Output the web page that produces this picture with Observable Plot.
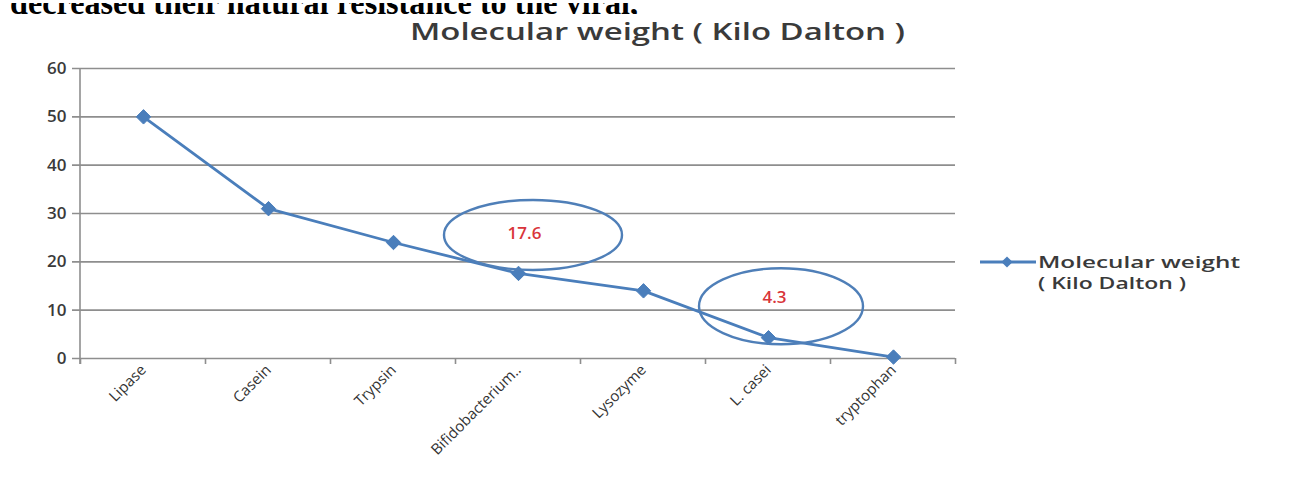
<!DOCTYPE html>
<html>
<head>
<meta charset="utf-8">
<script src="https://cdn.jsdelivr.net/npm/d3@7"></script>
<script src="https://cdn.jsdelivr.net/npm/@observablehq/plot@0.6"></script>
<style>
  html, body { margin: 0; padding: 0; background: #fff; }
  body { width: 1296px; height: 501px; overflow: hidden; position: relative; font-family: "Open Sans", sans-serif; }
  #cut { position: absolute; left: 0; top: 0; width: 1296px; height: 14px; overflow: hidden; }
  #title { position: absolute; left: 0; top: 14px; }
  #chart { position: absolute; left: 0; top: 50px; }
  #legend { position: absolute; left: 970px; top: 245px; }
</style>
</head>
<body>
<div id="cut">
  <svg width="1296" height="14"><text x="10" y="11" font-family="Liberation Serif, serif" font-size="34" font-weight="bold" fill="#000" textLength="628" lengthAdjust="spacingAndGlyphs">decreased their natural resistance to the viral,</text></svg>
</div>
<div id="title">
  <svg width="1296" height="34"><text x="410" y="26" font-family="Open Sans, sans-serif" font-size="23" font-weight="600" fill="#3a3a3a" textLength="495" lengthAdjust="spacingAndGlyphs">Molecular weight ( Kilo Dalton )</text></svg>
</div>
<div id="chart"></div>
<div id="legend"></div>
<script>
// ---- data ----
const categories = ["Lipase", "Casein", "Trypsin", "Bifidobacterium..", "Lysozyme", "L. casei", "tryptophan"];
const weights = [50, 31, 24, 17.6, 14, 4.3, 0.3];
const yTicks = [0, 10, 20, 30, 40, 50, 60];
const annotCategories = ["Bifidobacterium..", "L. casei"];
const annotValues = [17.6, 4.3];
const annotLabels = ["17.6", "4.3"];
const seriesName = ["Molecular weight", "( Kilo Dalton )"];

const data = categories.map((c, i) => ({category: c, value: weights[i]}));
const annots = annotCategories.map((c, i) => ({category: c, value: annotValues[i], label: annotLabels[i]}));

const lineColor = "#4a7ebb";
const gridColor = "#8e8e8e";

// custom mark: y axis line + x-axis boundary ticks (Excel style)
function axesMark(index, scales, values, dims) {
  const g = d3.create("svg:g");
  const x = scales.x, y = scales.y;
  const step = (dims.width - dims.marginLeft - dims.marginRight) / categories.length;
  const y0 = y(0), yTop = y(60);
  const left = dims.marginLeft;
  g.append("line").attr("x1", left).attr("x2", left).attr("y1", yTop).attr("y2", y0 + 6)
    .attr("stroke", gridColor).attr("stroke-width", 1.6);
  const bounds = categories.map(c => x(c) - step / 2).concat([x(categories[categories.length - 1]) + step / 2]);
  bounds.forEach(b => {
    g.append("line").attr("x1", b).attr("x2", b).attr("y1", y0).attr("y2", y0 + 6)
      .attr("stroke", gridColor).attr("stroke-width", 1.6);
  });
  return g.node();
}

// custom mark: ellipses around the annotated values
function ellipseMark(index, scales) {
  const g = d3.create("svg:g");
  const offs = [{dx: 15, dy: -38, rx: 89, ry: 35}, {dx: 13, dy: -31, rx: 82, ry: 38}];
  annots.forEach((a, i) => {
    const o = offs[i];
    g.append("ellipse")
      .attr("cx", scales.x(a.category) + o.dx)
      .attr("cy", scales.y(a.value) + o.dy)
      .attr("rx", o.rx).attr("ry", o.ry)
      .attr("fill", "none").attr("stroke", "#4f7fb8").attr("stroke-width", 2.4);
  });
  return g.node();
}

const chart = Plot.plot({
  width: 1296,
  height: 451,
  marginLeft: 80,
  marginRight: 341,
  marginTop: 18,
  marginBottom: 143,
  style: {fontFamily: "Open Sans, sans-serif", background: "transparent"},
  x: {type: "point", domain: categories, padding: 0.5, label: null},
  y: {domain: [0, 60], label: null},
  marks: [
    Plot.ruleY(yTicks, {stroke: gridColor, strokeWidth: 1.6, insetLeft: -8}),
    axesMark,
    Plot.axisY({ticks: yTicks, tickSize: 0, tickPadding: 14, fontSize: 17, fontWeight: 600, fill: "#3a3a3a", label: null}),
    Plot.axisX({tickSize: 0, tickPadding: 9, tickRotate: -45, fontSize: 15, fill: "#333", label: null}),
    Plot.line(data, {x: "category", y: "value", stroke: lineColor, strokeWidth: 2.8}),
    Plot.dot(data, {x: "category", y: "value", symbol: "diamond2", r: 6.5, fill: lineColor, stroke: lineColor, strokeWidth: 1}),
    ellipseMark,
    Plot.text(annots, {x: "category", y: "value", text: "label", fill: "#d9353a", fontSize: 17, fontWeight: 600, dx: 6, dy: -40})
  ]
});
document.getElementById("chart").appendChild(chart);

// legend
const leg = d3.select("#legend").append("svg").attr("width", 300).attr("height", 60);
leg.append("line").attr("x1", 10).attr("x2", 66).attr("y1", 17).attr("y2", 17).attr("stroke", lineColor).attr("stroke-width", 2.8);
leg.append("path").attr("d", d3.symbol(d3.symbolDiamond2, 80)()).attr("transform", "translate(37,17)").attr("fill", lineColor);
leg.append("text").attr("x", 68).attr("y", 23).attr("font-size", 17).attr("font-weight", 600).attr("fill", "#3a3a3a")
  .attr("textLength", 202).attr("lengthAdjust", "spacingAndGlyphs").text(seriesName[0]);
leg.append("text").attr("x", 68).attr("y", 44).attr("font-size", 17).attr("font-weight", 600).attr("fill", "#3a3a3a")
  .attr("textLength", 148).attr("lengthAdjust", "spacingAndGlyphs").text(seriesName[1]);
</script>
</body>
</html>
